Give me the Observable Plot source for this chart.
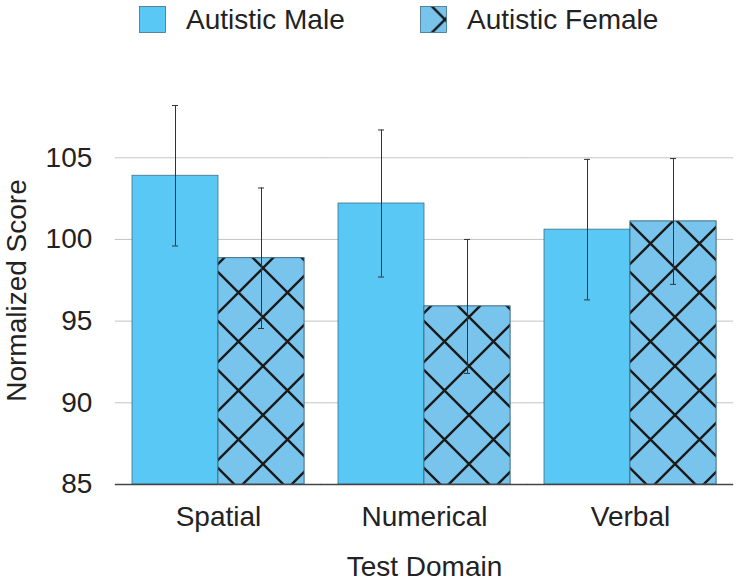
<!DOCTYPE html>
<html>
<head>
<meta charset="utf-8">
<script src="https://cdn.jsdelivr.net/npm/d3@7"></script>
<script src="https://cdn.jsdelivr.net/npm/@observablehq/plot@0.6"></script>
<style>
  body { margin: 0; background: #fff; font-family: "Liberation Sans", Arial, sans-serif; }
  #wrap { width: 742px; height: 583px; position: relative; }
  #legend { height: 40px; position: relative; font-size: 28px; color: #222; }
  .item { position: absolute; top: 6px; height: 27px; }
  .item svg { position: absolute; left: 0; top: 0; }
  .item span { position: absolute; top: -6px; line-height: 40px; white-space: nowrap; }
</style>
</head>
<body>
<div id="wrap">
  <div id="legend"></div>
  <div id="chart"></div>
</div>
<script>
const domains = ["Spatial", "Numerical", "Verbal"];
const groups = ["Autistic Male", "Autistic Female"];
const maleScores = [103.9, 102.2, 100.6];
const femaleScores = [98.85, 95.9, 101.1];
const maleErrors = [4.3, 4.5, 4.3];
const femaleErrors = [4.3, 4.1, 3.85];
const yTicks = [85, 90, 95, 100, 105];
const yDomain = [85, 108.75];
const colors = ["#5ac8f5", "#78c4ec"];

const rows = [];
domains.forEach((d, i) => {
  rows.push({domain: d, group: groups[0], score: maleScores[i], err: maleErrors[i]});
  rows.push({domain: d, group: groups[1], score: femaleScores[i], err: femaleErrors[i]});
});
const female = rows.filter(r => r.group === groups[1]);

const font = '"Liberation Sans", Arial, sans-serif';
const gapHalf = 17.2;

const chart = Plot.plot({
  width: 742,
  height: 543,
  marginLeft: 115,
  marginRight: 8,
  marginTop: 56,
  marginBottom: 99,
  style: {fontFamily: font, fontSize: "28px", color: "#222", background: "#fff"},
  fx: {domain: domains, paddingInner: 0.165, paddingOuter: 0.0825, label: null},
  x: {domain: groups, padding: 0, axis: null},
  y: {domain: yDomain, ticks: yTicks},
  color: {domain: groups, range: colors},
  marks: [
    Plot.gridY(yTicks.slice(1), {stroke: "#c4c4c4", strokeOpacity: 1, strokeWidth: 1, insetLeft: -gapHalf, insetRight: -gapHalf}),
    Plot.barY(rows, {fx: "domain", x: "group", y1: yDomain[0], y2: "score", fill: "group", stroke: "#3d6f86", strokeWidth: 0.8}),
    Plot.barY(female, {fx: "domain", x: "group", y1: yDomain[0], y2: "score", fill: "url(#hatch)"}),
    Plot.barY(female, {fx: "domain", x: "group", y1: yDomain[0], y2: "score", fill: "none", stroke: "#3d6f86", strokeWidth: 0.8}),
    Plot.ruleX(rows, {fx: "domain", x: "group", y1: d => d.score - d.err, y2: d => d.score + d.err, stroke: "#333", strokeWidth: 1}),
    Plot.tickY(rows, {fx: "domain", x: "group", y: d => d.score + d.err, stroke: "#333", strokeWidth: 1, insetLeft: 40, insetRight: 40}),
    Plot.tickY(rows, {fx: "domain", x: "group", y: d => d.score - d.err, stroke: "#333", strokeWidth: 1, insetLeft: 40, insetRight: 40}),
    Plot.axisY(yTicks, {tickSize: 0, tickPadding: 23 + gapHalf, fontSize: 28, label: "Normalized Score", labelArrow: false, labelAnchor: "center", labelOffset: 126, facetAnchor: "left"}),
    Plot.axisFx({anchor: "bottom", tickSize: 0, tickPadding: 22, fontSize: 28, label: "Test Domain", labelArrow: false, labelAnchor: "center", labelOffset: 91}),
    Plot.ruleY([yDomain[0]], {stroke: "#444", strokeWidth: 1.5, insetLeft: -gapHalf, insetRight: -gapHalf})
  ]
});

// hatch pattern
const svgNS = "http://www.w3.org/2000/svg";
function makeHatch(id, px, py) {
  const pat = document.createElementNS(svgNS, "pattern");
  pat.setAttribute("id", id);
  pat.setAttribute("patternUnits", "userSpaceOnUse");
  pat.setAttribute("width", 49);
  pat.setAttribute("height", 49);
  pat.setAttribute("x", px);
  pat.setAttribute("y", py);
  const bg = document.createElementNS(svgNS, "rect");
  bg.setAttribute("width", 49); bg.setAttribute("height", 49); bg.setAttribute("fill", colors[1]);
  pat.appendChild(bg);
  const p = document.createElementNS(svgNS, "path");
  p.setAttribute("d", "M-5,-5L54,54M54,-5L-5,54");
  p.setAttribute("stroke", "#1a1a1a");
  p.setAttribute("stroke-width", 2.4);
  pat.appendChild(p);
  return pat;
}
const defs = document.createElementNS(svgNS, "defs");
defs.appendChild(makeHatch("hatch", 1, 32));
chart.insertBefore(defs, chart.firstChild);
document.getElementById("chart").appendChild(chart);

// legend
const legend = document.getElementById("legend");
const lefts = [139, 420];
groups.forEach((g, i) => {
  const item = document.createElement("div");
  item.className = "item";
  item.style.left = lefts[i] + "px";
  const sw = document.createElementNS(svgNS, "svg");
  sw.setAttribute("width", 28); sw.setAttribute("height", 28);
  if (i === 1) {
    const d2 = document.createElementNS(svgNS, "defs");
    d2.appendChild(makeHatch("hatchL", 25, 13.5));
    sw.appendChild(d2);
  }
  const r = document.createElementNS(svgNS, "rect");
  r.setAttribute("x", 0.5); r.setAttribute("y", 0.5); r.setAttribute("width", 26); r.setAttribute("height", 26);
  r.setAttribute("fill", i === 1 ? "url(#hatchL)" : colors[0]);
  r.setAttribute("stroke", "#3d6f86"); r.setAttribute("stroke-width", 0.8);
  sw.appendChild(r);
  item.appendChild(sw);
  const t = document.createElement("span");
  t.style.left = "47px";
  t.textContent = g;
  item.appendChild(t);
  legend.appendChild(item);
});
</script>
</body>
</html>
